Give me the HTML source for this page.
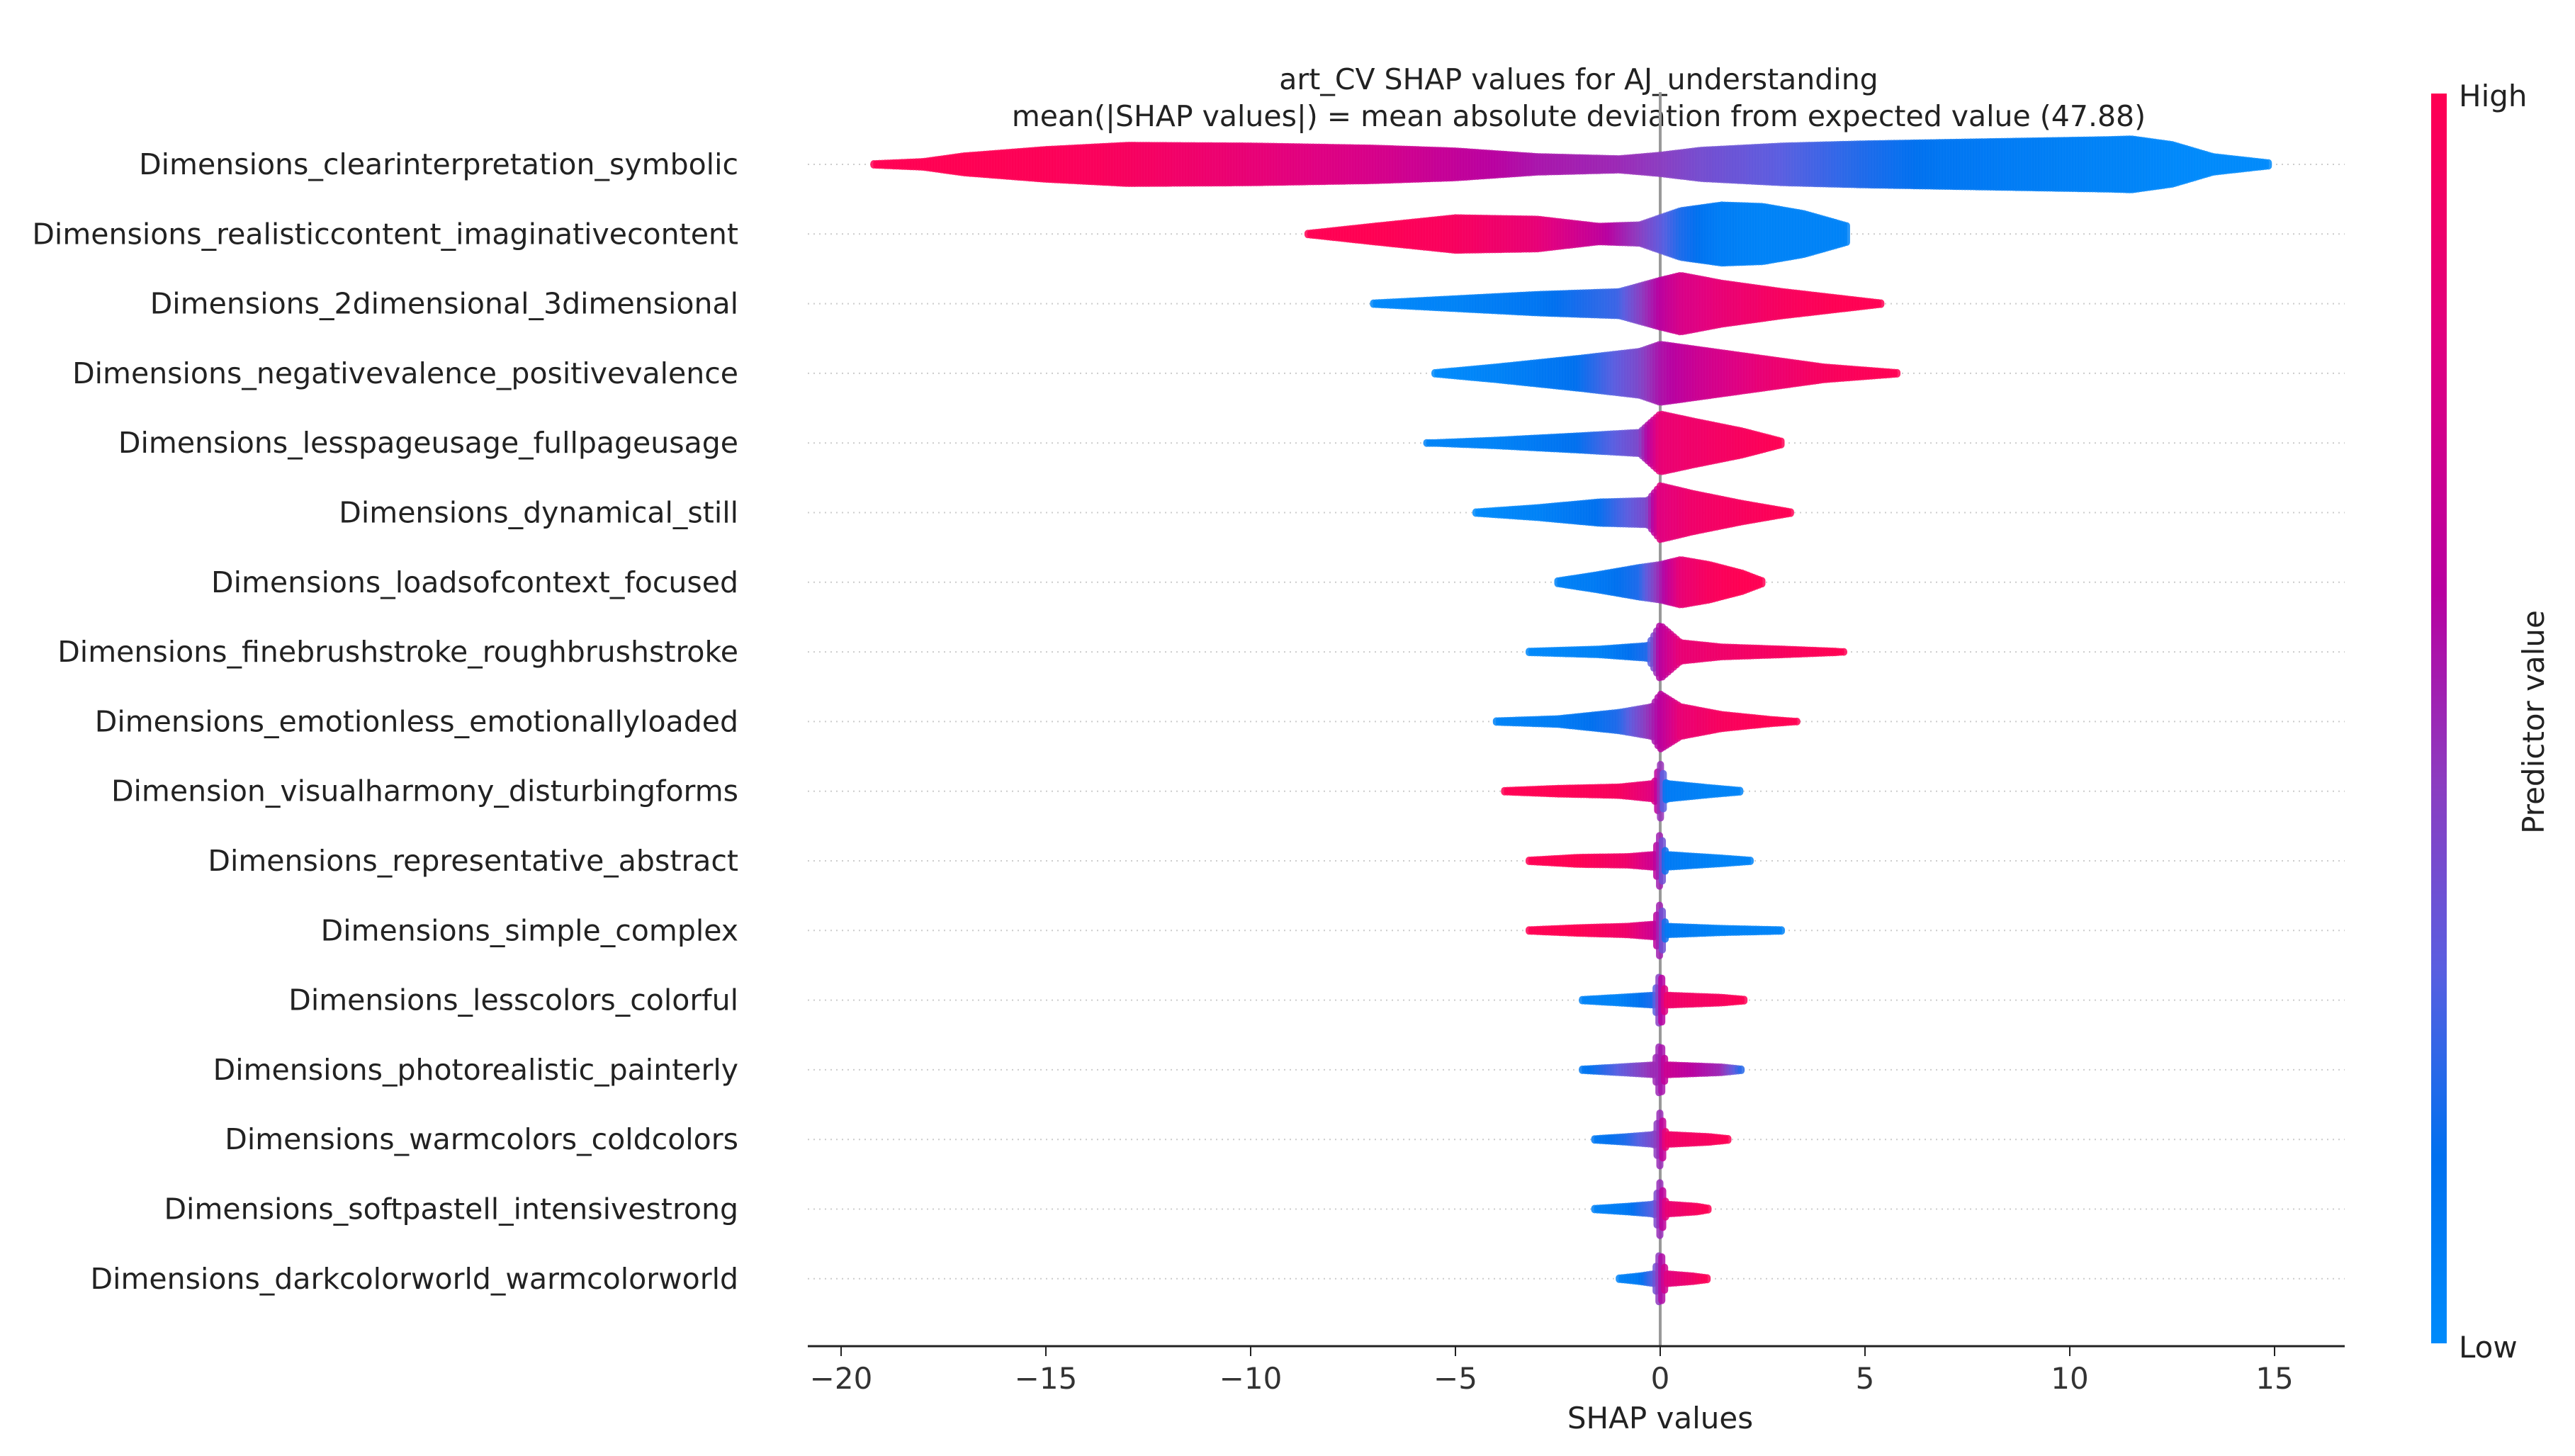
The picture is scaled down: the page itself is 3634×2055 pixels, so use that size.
<!DOCTYPE html>
<html><head><meta charset="utf-8"><style>
html,body{margin:0;padding:0;background:#fff;}
svg{display:block;font-family:"DejaVu Sans","Liberation Sans",sans-serif;}
</style></head><body>
<svg id="chart" width="3634" height="2055" viewBox="0 0 3634 2055" xmlns="http://www.w3.org/2000/svg">
<defs>
<linearGradient id="cbar" x1="0" y1="1" x2="0" y2="0">
<stop offset="0" stop-color="#008bfb"/><stop offset="0.15" stop-color="#0070ef"/><stop offset="0.3" stop-color="#5a5ee0"/><stop offset="0.45" stop-color="#8c3cc0"/><stop offset="0.6" stop-color="#b800a0"/><stop offset="0.8" stop-color="#e00080"/><stop offset="1" stop-color="#ff0052"/>
</linearGradient>
</defs>
<g id="title" font-size="41" text-anchor="middle" fill="#222">
<text x="2228" y="126">art_CV SHAP values for AJ_understanding</text>
<text x="2228" y="178">mean(|SHAP values|) = mean absolute deviation from expected value (47.88)</text>
</g>
<g id="rowlines"></g>
<line x1="2343" y1="130" x2="2343" y2="1900" stroke="#999" stroke-width="4"/>
<g id="swarm"></g>
<g id="labels" font-size="41" text-anchor="end" fill="#222"></g>
<line x1="1140" y1="1900" x2="3309" y2="1900" stroke="#222" stroke-width="3"/>
<g id="xticks" font-size="42" text-anchor="middle" fill="#333"></g>
<text x="2343" y="2016" font-size="42" text-anchor="middle" fill="#222">SHAP values</text>
<rect x="3431" y="132" width="22" height="1764" fill="url(#cbar)"/>
<text x="3470" y="150" font-size="42" fill="#222">High</text>
<text x="3470" y="1916" font-size="42" fill="#222">Low</text>
<text transform="translate(3590,1019) rotate(-90)" font-size="42" text-anchor="middle" fill="#222">Predictor value</text>
</svg>
<script>
const features = ["Dimensions_clearinterpretation_symbolic","Dimensions_realisticcontent_imaginativecontent","Dimensions_2dimensional_3dimensional","Dimensions_negativevalence_positivevalence","Dimensions_lesspageusage_fullpageusage","Dimensions_dynamical_still","Dimensions_loadsofcontext_focused","Dimensions_finebrushstroke_roughbrushstroke","Dimensions_emotionless_emotionallyloaded","Dimension_visualharmony_disturbingforms","Dimensions_representative_abstract","Dimensions_simple_complex","Dimensions_lesscolors_colorful","Dimensions_photorealistic_painterly","Dimensions_warmcolors_coldcolors","Dimensions_softpastell_intensivestrong","Dimensions_darkcolorworld_warmcolorworld"];
const shapKnots = [
[-19.2,-18,-17,-15,-13,-10,-7,-5,-3,-1,0,1,3,5,7,9,11,11.5,12.5,13.5,14.9],
[-8.6,-7,-5,-3,-1.5,-0.5,0.5,1.5,2.5,3.5,4.6],
[-7,-5,-3,-1,0,0.5,1.5,3,4.5,5.4],
[-5.5,-4,-2,-0.5,0,1,2.5,4,5.8],
[-5.7,-4,-2,-0.5,0,0.8,2,3],
[-4.5,-3,-1.5,-0.3,0,0.8,2,3.2],
[-2.5,-1.5,-0.5,0,0.5,1.2,2,2.5],
[-3.2,-1.5,-0.3,0,0.5,1.5,3,4.3,4.5],
[-4,-2.5,-1,-0.2,0,0.5,1.5,2.7,3.4],
[-3.8,-2.5,-1,-0.15,0,0.15,1.2,2],
[-3.2,-2,-0.8,-0.15,0,0.15,1.5,2.2],
[-3.2,-2,-0.8,-0.15,0,0.15,1.5,3],
[-1.9,-1,-0.15,0,0.15,1.5,2.1],
[-1.9,-1,-0.15,0,0.15,1.5,2],
[-1.6,-0.8,-0.15,0,0.15,1.2,1.7],
[-1.6,-0.8,-0.15,0,0.15,0.9,1.2],
[-1,-0.5,-0.15,0,0.15,0.8,1.2]
];
const densityKnots = [
[6,9,17,26,32,31,28,24,16,13,18,25,31,34,36,38,40,41,33,16,7],
[6,16,28,26,16,18,38,46,44,34,16],
[6,12,18,22,38,45,34,22,12,6],
[6,14,26,36,46,38,26,14,6],
[5,9,15,20,46,36,22,7],
[6,12,20,22,43,32,18,6],
[7,16,26,30,37,30,18,7],
[6,9,14,43,18,12,9,6,5],
[6,9,18,26,44,26,15,8,5],
[6,9,11,16,44,16,10,6],
[6,10,11,14,44,14,9,6],
[6,9,11,14,44,11,8,6],
[6,9,12,44,12,9,6],
[6,9,12,44,12,9,6],
[6,9,12,44,12,9,6],
[6,9,12,44,12,9,6],
[6,9,12,44,12,9,6]
];
const featureValueKnots = [
[1,1,1,0.98,0.95,0.85,0.75,0.65,0.55,0.5,0.45,0.38,0.3,0.2,0.12,0.08,0.05,0.04,0.02,0.01,0.01],
[1,1,0.95,0.85,0.65,0.45,0.2,0.08,0.05,0.05,0.05],
[0.02,0.05,0.12,0.25,0.6,0.75,0.85,0.95,1,1],
[0,0.05,0.15,0.4,0.55,0.7,0.85,0.95,1],
[0.05,0.05,0.15,0.4,0.85,0.9,0.95,1],
[0,0.05,0.15,0.4,0.8,0.9,0.95,1],
[0.05,0.1,0.2,0.5,0.85,0.95,1,1],
[0.02,0.05,0.2,0.6,0.85,0.9,0.95,1,1],
[0.05,0.08,0.2,0.5,0.6,0.85,0.95,1,1],
[1,1,0.95,0.8,0.5,0.1,0.05,0.05],
[1,1,0.9,0.7,0.5,0.1,0.05,0.05],
[1,1,0.9,0.7,0.5,0.1,0.05,0.05],
[0.05,0.05,0.2,0.5,0.9,0.95,1],
[0.1,0.3,0.5,0.5,0.7,0.5,0.2],
[0.1,0.2,0.4,0.5,0.9,0.95,1],
[0.05,0.1,0.3,0.5,0.85,0.95,1],
[0.05,0.1,0.3,0.5,0.8,0.9,1]
];
const xTicks = [-20,-15,-10,-5,0,5,10,15];

const NS = "http://www.w3.org/2000/svg";
function xScale(v){ return 2343 + 57.8 * v; }
function yScale(i){ return 232 + 98.3 * i; }
const stops = [[0,[0,139,251]],[0.15,[0,112,239]],[0.3,[90,94,224]],[0.45,[140,60,192]],[0.6,[184,0,160]],[0.8,[224,0,128]],[1,[255,0,82]]];
function cmap(t){
  for(let k=1;k<stops.length;k++){
    if(t<=stops[k][0]){
      const a=stops[k-1], b=stops[k], f=(t-a[0])/(b[0]-a[0]);
      const c=a[1].map((v,j)=>Math.round(v+(b[1][j]-v)*f));
      return `rgb(${c[0]},${c[1]},${c[2]})`;
    }
  }
  return "rgb(255,0,82)";
}
function interp(xs, ys, v){
  if(v<=xs[0]) return ys[0];
  for(let k=1;k<xs.length;k++){
    if(v<=xs[k]){ const f=(v-xs[k-1])/(xs[k]-xs[k-1]); return ys[k-1]+(ys[k]-ys[k-1])*f; }
  }
  return ys[ys.length-1];
}
const rowG=document.getElementById('rowlines'), sw=document.getElementById('swarm'), lab=document.getElementById('labels'), xt=document.getElementById('xticks');
features.forEach((name,i)=>{
  const y=yScale(i);
  const ln=document.createElementNS(NS,'line');
  
  
  ln.setAttribute('x1',1140); ln.setAttribute('x2',3309); ln.setAttribute('y1',y); ln.setAttribute('y2',y);
  ln.setAttribute('stroke','#ccc'); ln.setAttribute('stroke-width','2'); ln.setAttribute('stroke-dasharray','2 6');
  rowG.appendChild(ln);
  const t=document.createElementNS(NS,'text');
  
  
  t.setAttribute('x',1042); t.setAttribute('y',y+14); t.textContent=name;
  lab.appendChild(t);
  const g=document.createElementNS(NS,'g');
  
  
  const xs=shapKnots[i], ds=densityKnots[i], cs=featureValueKnots[i];
  const x0=xScale(xs[0]), x1=xScale(xs[xs.length-1]);
  for(let px=x0; px<=x1; px+=4){
    const v=(px-2343)/57.8;
    const h=Math.max(interp(xs,ds,v)-5,0.5), c=interp(xs,cs,v);
    const l=document.createElementNS(NS,'line');
    
    
    l.setAttribute('x1',px); l.setAttribute('x2',px);
    l.setAttribute('y1',y-h); l.setAttribute('y2',y+h);
    l.setAttribute('stroke',cmap(c)); l.setAttribute('stroke-width','10'); l.setAttribute('stroke-linecap','round');
    l.setAttribute('stroke-opacity','0.85');
    g.appendChild(l);
  }
  sw.appendChild(g);
});
xTicks.forEach(v=>{
  const x=xScale(v);
  const tk=document.createElementNS(NS,'line');
  
  
  tk.setAttribute('x1',x); tk.setAttribute('x2',x); tk.setAttribute('y1',1900); tk.setAttribute('y2',1914);
  tk.setAttribute('stroke','#222'); tk.setAttribute('stroke-width','2');
  xt.appendChild(tk);
  const t=document.createElementNS(NS,'text');
  
  
  t.setAttribute('x',x); t.setAttribute('y',1960);
  t.textContent = v<0 ? '\u2212'+Math.abs(v) : String(v);
  xt.appendChild(t);
});
</script>
</body></html>
